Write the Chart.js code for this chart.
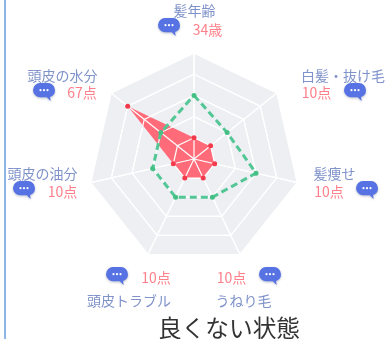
<!DOCTYPE html>
<html lang="ja">
<head>
<meta charset="utf-8">
<style>
  html, body { margin: 0; padding: 0; background: #fff; overflow: hidden; }
  body { width: 386px; height: 339px; position: relative; font-family: "Noto Sans CJK JP", sans-serif; }
  #edge { position: absolute; left: 4px; top: 0; width: 2px; height: 339px; background: #8db5e6; }
  #radar { position: absolute; left: 0; top: 0; }
  .name, .score { position: absolute; font-size: 14px; line-height: 16px; white-space: nowrap; transform: translateX(-50%); }
  .name { color: #7f92ca; }
  .score { color: #ff808a; }
  .bubble { position: absolute; width: 22px; height: 19px; filter: drop-shadow(0 1px 1px rgba(60, 70, 110, 0.35)); }
  #state { position: absolute; left: 229px; top: 311px; transform: translateX(-50%); font-size: 23.7px; line-height: 32px; color: #333; white-space: nowrap; }
</style>
</head>
<body>
<div id="edge"></div>
<canvas id="radar" width="386" height="339"></canvas>
<div id="state">良くない状態</div>
<script src="https://cdn.jsdelivr.net/npm/chart.js@4/dist/chart.umd.min.js"></script>
<script>
const categories = ['髪年齢', '白髪・抜け毛', '髪痩せ', 'うねり毛', '頭皮トラブル', '頭皮の油分', '頭皮の水分'];
const scores = ['34歳', '10点', '10点', '10点', '10点', '10点', '67点'];
const userValues = [20, 20, 20, 20, 20, 20, 80];
const averageValues = [60, 40, 60, 40, 40, 40, 40];

// label placement around the radar: name centre, score centre, bubble left/top
const namePos = [[194.5, 10], [343, 75], [334.5, 173], [243.5, 299.5], [129, 299.5], [42.5, 173], [62.5, 75]];
const scorePos = [[207.5, 29], [316.5, 92], [329, 191], [231.5, 277], [156, 277], [62.5, 191], [82, 92]];
const bubblePos = [[158, 18], [344, 83], [356, 181], [259, 267], [106, 267], [13, 181], [33, 83]];

// draws the grid again so the white lines sit on the red fill but under the points and green line
const gridOverFill = {
    id: 'gridOverFill',
    afterDatasetDraw(chart, args) {
        if (args.index === 2) {
            chart.scales.r.drawGrid(chart.chartArea);
        }
    }
};

new Chart(document.getElementById('radar'), {
    type: 'radar',
    data: {
        labels: categories,
        datasets: [
            {
                label: 'average',
                data: averageValues,
                borderColor: '#52c795',
                borderWidth: 3,
                borderDash: [7, 4],
                backgroundColor: 'transparent',
                fill: false,
                pointBackgroundColor: '#45c084',
                pointBorderWidth: 0,
                pointRadius: 2.5
            },
            {
                label: 'user points',
                data: userValues,
                showLine: false,
                fill: false,
                backgroundColor: 'transparent',
                borderWidth: 0,
                pointBackgroundColor: '#f23a4c',
                pointBorderWidth: 0,
                pointRadius: 2.5
            },
            {
                label: 'user',
                data: userValues,
                borderColor: '#ff6b78',
                borderWidth: 0,
                backgroundColor: '#ff6b78',
                fill: true,
                pointRadius: 0
            }
        ]
    },
    options: {
        responsive: false,
        animation: false,
        layout: { padding: { left: 82, right: 80, top: 52.5, bottom: 73.5 } },
        plugins: { legend: { display: false }, tooltip: { enabled: false } },
        scales: {
            r: {
                min: 0,
                max: 100,
                backgroundColor: '#eeeff3',
                ticks: { display: false, stepSize: 20 },
                pointLabels: { display: false },
                grid: { color: '#ffffff', lineWidth: 1.2 },
                angleLines: { color: '#ffffff', lineWidth: 1.2 }
            }
        }
    },
    plugins: [gridOverFill]
});

const bubbleSvg = '<svg width="22" height="19" viewBox="0 0 22 19"><path d="M7.5 0h7a7.2 7.2 0 0 1 7.5 7.2 7.2 7.2 0 0 1-5 6.9l0.7 4-3.9-3.9H7.5A7.2 7.2 0 0 1 0 7.2 7.2 7.2 0 0 1 7.5 0z" fill="#5672e3"/><circle cx="7.5" cy="7.2" r="1.1" fill="#fff"/><circle cx="11" cy="7.2" r="1.1" fill="#fff"/><circle cx="14.5" cy="7.2" r="1.1" fill="#fff"/></svg>';

function addText(cls, text, pos) {
    const el = document.createElement('div');
    el.className = cls;
    el.textContent = text;
    el.style.left = pos[0] + 'px';
    el.style.top = (pos[1] - 8) + 'px';
    document.body.appendChild(el);
}

categories.forEach((name, i) => {
    addText('name', name, namePos[i]);
    addText('score', scores[i], scorePos[i]);
    const bubble = document.createElement('div');
    bubble.className = 'bubble';
    bubble.innerHTML = bubbleSvg;
    bubble.style.left = bubblePos[i][0] + 'px';
    bubble.style.top = bubblePos[i][1] + 'px';
    document.body.appendChild(bubble);
});
</script>
</body>
</html>
